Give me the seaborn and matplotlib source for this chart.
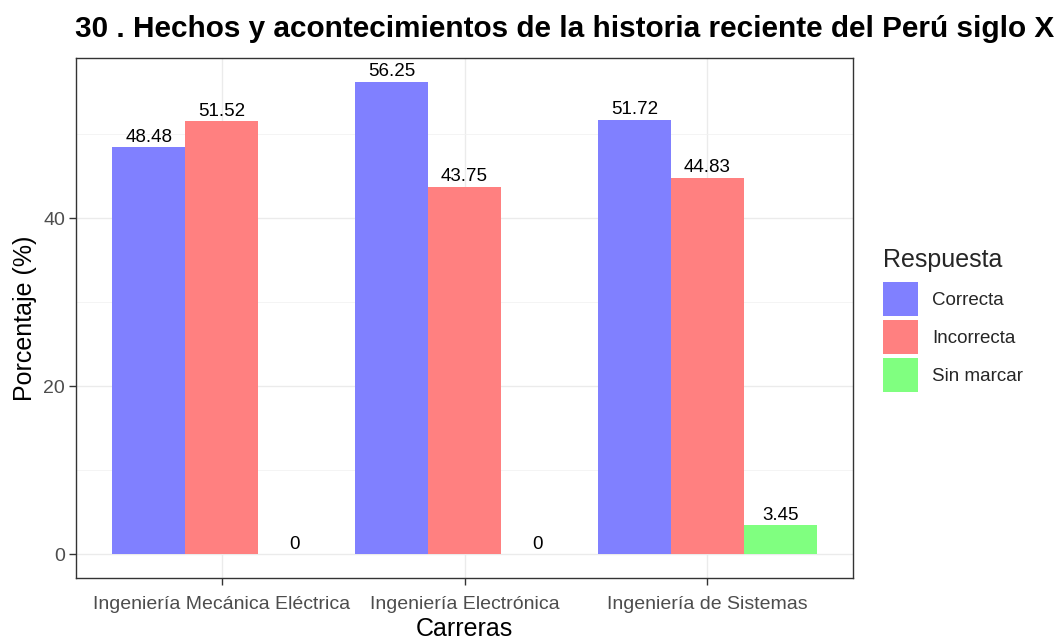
import numpy as np
import pandas as pd
import matplotlib
matplotlib.use("Agg")
import matplotlib.pyplot as plt
from matplotlib.patches import Patch
from matplotlib.ticker import MultipleLocator
from matplotlib.transforms import Bbox, TransformedBbox
import seaborn as sns

carreras = ["Ingeniería Mecánica Eléctrica", "Ingeniería Electrónica", "Ingeniería de Sistemas"]
respuestas = ["Correcta", "Incorrecta", "Sin marcar"]
correcta = [48.48, 56.25, 51.72]
incorrecta = [51.52, 43.75, 44.83]
sin_marcar = [0, 0, 3.45]
colores = ["#8080FF", "#FF8080", "#80FF80"]

df = pd.DataFrame({
    "Carreras": carreras * 3,
    "Respuesta": [r for r in respuestas for _ in carreras],
    "Porcentaje": correcta + incorrecta + sin_marcar,
})

sns.set_theme(style="white")
plt.rcParams["font.family"] = ["Liberation Sans", "DejaVu Sans"]

fig = plt.figure(figsize=(10.64, 6.41), dpi=100)
ax = fig.add_axes([76 / 1064, 1 - 578 / 641, (853 - 76) / 1064, (578 - 58) / 641])

sns.barplot(data=df, x="Carreras", y="Porcentaje", hue="Respuesta",
            order=carreras, hue_order=respuestas, palette=colores,
            width=0.9, gap=0, saturation=1, errorbar=None, ax=ax, legend=False,
            linewidth=0, zorder=3)

for cont in ax.containers:
    ax.bar_label(cont, labels=[f"{b.get_height():g}" for b in cont],
                 padding=1, fontsize=13.5, color="black", zorder=4)

ax.set_xlim(-0.6, 2.6)
ax.set_ylim(-2.81, 59.06)
ax.yaxis.set_major_locator(MultipleLocator(20))
ax.yaxis.set_minor_locator(MultipleLocator(10))
ax.grid(True, which="major", color="#EBEBEB", linewidth=1.0, zorder=0)
ax.grid(True, which="minor", axis="y", color="#F2F2F2", linewidth=0.6, zorder=0)
ax.set_axisbelow(True)
for s in ax.spines.values():
    s.set_color("#333333")
    s.set_linewidth(1.0)
ax.tick_params(axis="both", which="major", length=5, width=1, color="#333333",
               labelcolor="#4D4D4D", labelsize=14, bottom=True, left=True)
ax.tick_params(axis="x", pad=8)
ax.tick_params(axis="y", pad=3)
ax.tick_params(axis="y", which="minor", length=0)
ax.set_xlabel("Carreras", fontsize=18, color="black", labelpad=3)
ax.set_ylabel("Porcentaje (%)", fontsize=18, color="black", labelpad=4)

# the title runs past the right edge of the canvas
title = fig.text(75 / 1064, 1 - 37 / 641,
                 "30 . Hechos y acontecimientos de la historia reciente del Perú siglo XX",
                 fontsize=21.45, fontweight="bold", ha="left", va="baseline", color="black")
title.set_clip_box(TransformedBbox(Bbox([[0, 0], [1054 / 1064, 1]]), fig.transFigure))
title.set_clip_on(True)

handles = [Patch(facecolor=c, edgecolor="none") for c in colores]
leg = fig.legend(handles, respuestas, title="Respuesta", loc="upper left",
                 bbox_to_anchor=(866 / 1064, 1 - 231 / 641), frameon=False,
                 fontsize=13.5, title_fontsize=18, handlelength=1.87, handleheight=2.42,
                 labelspacing=0.21, handletextpad=0.75, alignment="left")
# a little more room between the legend title and the keys
leg._legend_box.sep += 4.3

fig.savefig("out.png", dpi=100)
